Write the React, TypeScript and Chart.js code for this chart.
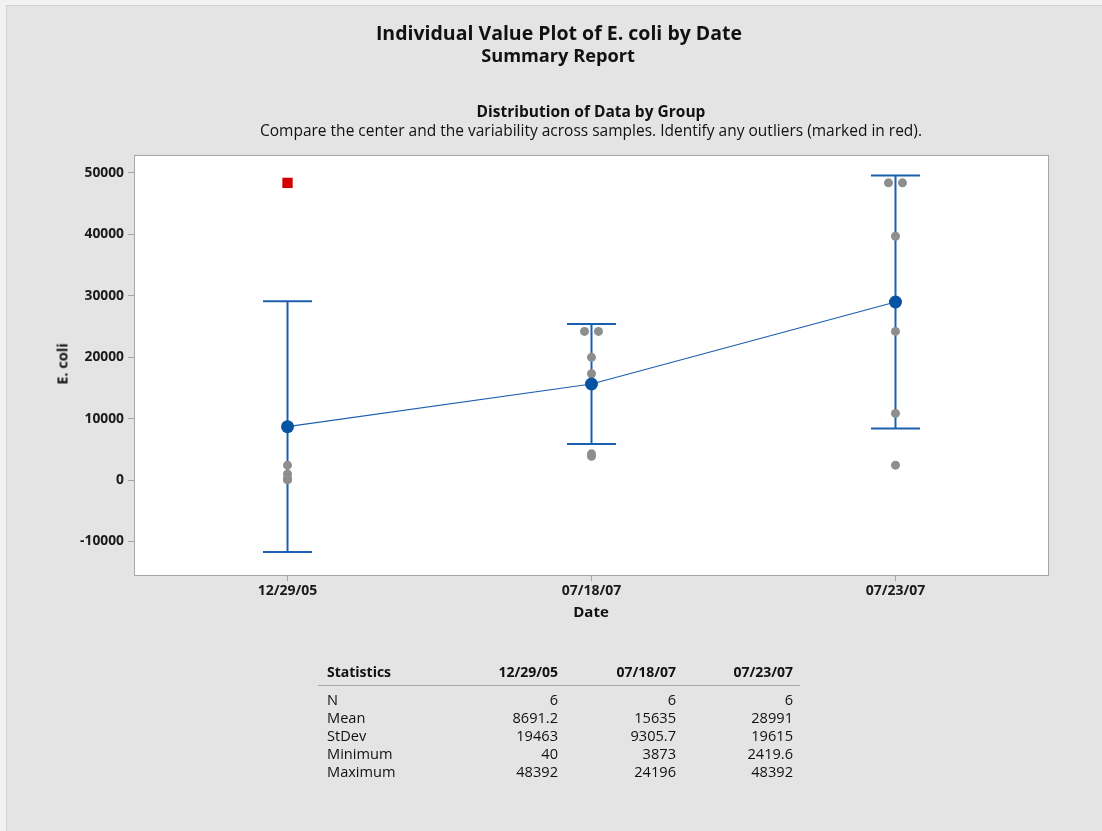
import React, { useEffect, useRef } from "react";
import { Chart, registerables } from "chart.js";

Chart.register(...registerables);

// ---------- data ----------
const categories = ["12/29/05", "07/18/07", "07/23/07"];
const group1Values = [48392, 2420, 980, 230, 85, 40];
const group2Values = [24196, 24196, 19980, 17300, 4265, 3873];
const group3Values = [48392, 48392, 39700, 24196, 10846, 2419.6];
const groupValues = [group1Values, group2Values, group3Values];
const outlierGroups = [0];
const outlierValues = [48392];
const means = [8691.2, 15635, 28991];
const ciLow = [-11737, 5868, 8403];
const ciHigh = [29119, 25402, 49579];
const yTickValues = [-10000, 0, 10000, 20000, 30000, 40000, 50000];
const yMin = -15470;
const yMax = 52930;

const statLabels = ["N", "Mean", "StDev", "Minimum", "Maximum"];
const statN = ["6", "6", "6"];
const statMean = ["8691.2", "15635", "28991"];
const statStDev = ["19463", "9305.7", "19615"];
const statMin = ["40", "3873", "2419.6"];
const statMax = ["48392", "24196", "48392"];
const statRows = [statN, statMean, statStDev, statMin, statMax];

const FONT = "'Open Sans', 'Noto Sans', sans-serif";

export default function App() {
  const ref = useRef<HTMLCanvasElement>(null);

  useEffect(() => {
    if (!ref.current) return;

    const jitterStep = 0.046;
    const grayPts: { x: number; y: number }[] = [];
    const redPts: { x: number; y: number }[] = [];
    groupValues.forEach((vals, gi) => {
      const remaining = [...vals];
      outlierGroups.forEach((og, k) => {
        if (og === gi) {
          const idx = remaining.indexOf(outlierValues[k]);
          if (idx >= 0) remaining.splice(idx, 1);
          redPts.push({ x: gi, y: outlierValues[k] });
        }
      });
      const seen: Record<string, number> = {};
      remaining.forEach((v) => {
        const n = remaining.filter((w) => w === v).length;
        const k = seen[v] || 0;
        seen[v] = k + 1;
        grayPts.push({ x: gi + (k - (n - 1) / 2) * jitterStep, y: v });
      });
    });

    const errorSets = categories.map((_, i) => ({
      type: "line" as const,
      data: [
        { x: i, y: ciLow[i] },
        { x: i, y: ciHigh[i] },
      ],
      borderColor: "#1c5fae",
      borderWidth: 2,
      pointStyle: "line" as const,
      pointRadius: 24.5,
      pointBorderWidth: 2,
      pointBorderColor: "#1c5fae",
      pointHoverRadius: 24.5,
      order: 3,
    }));

    const bgPlugin = {
      id: "plotBg",
      beforeDraw(chart: any) {
        const { ctx, chartArea } = chart;
        ctx.save();
        ctx.fillStyle = "#ffffff";
        ctx.fillRect(chartArea.left, chartArea.top, chartArea.right - chartArea.left, chartArea.bottom - chartArea.top);
        ctx.strokeStyle = "#a6a6a6";
        ctx.lineWidth = 1;
        ctx.strokeRect(chartArea.left + 0.5, chartArea.top + 0.5, chartArea.right - chartArea.left - 1, chartArea.bottom - chartArea.top);
        ctx.restore();
      },
    };

    const chart = new Chart(ref.current, {
      type: "scatter",
      data: {
        datasets: [
          {
            type: "line",
            data: means.map((m, i) => ({ x: i, y: m })),
            borderColor: "#1c5fae",
            borderWidth: 1.2,
            pointRadius: 6.5,
            pointBackgroundColor: "#0652a3",
            pointBorderColor: "#0652a3",
            pointBorderWidth: 0,
            order: 0,
          } as any,
          {
            data: grayPts,
            pointRadius: 4.5,
            pointBackgroundColor: "#8e8e8e",
            pointBorderWidth: 0,
            order: 1,
          },
          {
            data: redPts,
            pointStyle: "rect",
            pointRadius: 7.3,
            pointBackgroundColor: "#d40000",
            pointBorderWidth: 0,
            order: 1,
          },
          ...(errorSets as any[]),
        ],
      },
      options: {
        animation: false,
        responsive: false,
        events: [],
        layout: { padding: { left: 0, top: 155, right: 53, bottom: 0 } },
        plugins: { legend: { display: false }, tooltip: { enabled: false } },
        scales: {
          x: {
            type: "linear",
            min: -0.505,
            max: 2.505,
            afterBuildTicks: (s: any) => {
              s.ticks = categories.map((_, i) => ({ value: i }));
            },
            afterFit: (s: any) => {
              s.height = 256;
            },
            ticks: {
              callback: (v: any) => categories[Math.round(Number(v))] ?? "",
              color: "#1a1a1a",
              font: { family: FONT, size: 14, weight: "bold" },
              padding: 2,
              maxRotation: 0,
            },
            grid: { drawOnChartArea: false, drawTicks: true, tickLength: 6, color: "#a6a6a6" },
            border: { display: false },
          },
          y: {
            type: "linear",
            min: yMin,
            max: yMax,
            afterBuildTicks: (s: any) => {
              s.ticks = yTickValues.map((v) => ({ value: v }));
            },
            afterFit: (s: any) => {
              s.width = 134;
            },
            ticks: {
              callback: (v: any) => String(v),
              color: "#1a1a1a",
              font: { family: FONT, size: 13.8, weight: "bold" },
              padding: 4,
            },
            grid: { drawOnChartArea: false, drawTicks: true, tickLength: 6, color: "#a6a6a6" },
            border: { display: false },
          },
        },
      },
      plugins: [bgPlugin],
    } as any);

    return () => chart.destroy();
  }, []);

  const abs = (extra: React.CSSProperties): React.CSSProperties => ({
    position: "absolute",
    whiteSpace: "nowrap",
    color: "#111",
    fontFamily: FONT,
    ...extra,
  });

  const colRight = [558, 676, 793];
  const rowY = [699, 717, 735, 753, 771];

  return (
    <div style={{ position: "absolute", left: 0, top: 0, width: 1102, height: 831, background: "#f2f2f2", overflow: "hidden" }}>
      <div
        style={{
          position: "absolute",
          left: 6,
          top: 5,
          right: 0,
          bottom: 0,
          background: "#e4e4e4",
          borderTop: "1px solid #d2d2d2",
          borderLeft: "1px solid #d2d2d2",
        }}
      />
      <canvas ref={ref} width={1102} height={831} style={{ position: "absolute", left: 0, top: 0, width: 1102, height: 831 }} />

      <div style={abs({ left: 559, top: 32, transform: "translate(-50%,-50%)", fontSize: 19.5, fontWeight: 700 })}>
        Individual Value Plot of E. coli by Date
      </div>
      <div style={abs({ left: 558, top: 55, transform: "translate(-50%,-50%)", fontSize: 18.2, fontWeight: 700 })}>
        Summary Report
      </div>
      <div style={abs({ left: 591, top: 111, transform: "translate(-50%,-50%)", fontSize: 15.5, fontWeight: 700 })}>
        Distribution of Data by Group
      </div>
      <div style={abs({ left: 591, top: 130, transform: "translate(-50%,-50%)", fontSize: 15.5 })}>
        Compare the center and the variability across samples. Identify any outliers (marked in red).
      </div>
      <div style={abs({ left: 591, top: 611, transform: "translate(-50%,-50%)", fontSize: 15, fontWeight: 700 })}>Date</div>
      <div
        style={abs({
          left: 62,
          top: 364,
          transform: "translate(-50%,-50%) rotate(-90deg)",
          fontSize: 14.5,
          fontWeight: 700,
        })}
      >
        E. coli
      </div>

      {/* statistics table */}
      <div style={abs({ left: 327, top: 671, transform: "translateY(-50%)", fontSize: 14, fontWeight: 700 })}>Statistics</div>
      {categories.map((c, i) => (
        <div key={c} style={abs({ left: colRight[i], top: 671, transform: "translate(-100%,-50%)", fontSize: 14, fontWeight: 700 })}>
          {c}
        </div>
      ))}
      <div style={{ position: "absolute", left: 318, top: 685, width: 482, height: 1, background: "#a8a8a8" }} />
      {statLabels.map((lab, r) => (
        <React.Fragment key={lab}>
          <div style={abs({ left: 327, top: rowY[r], transform: "translateY(-50%)", fontSize: 14.6, lineHeight: "18px" })}>{lab}</div>
          {statRows[r].map((v, i) => (
            <div
              key={i}
              style={abs({ left: colRight[i], top: rowY[r], transform: "translate(-100%,-50%)", fontSize: 14.6, lineHeight: "18px" })}
            >
              {v}
            </div>
          ))}
        </React.Fragment>
      ))}
    </div>
  );
}
